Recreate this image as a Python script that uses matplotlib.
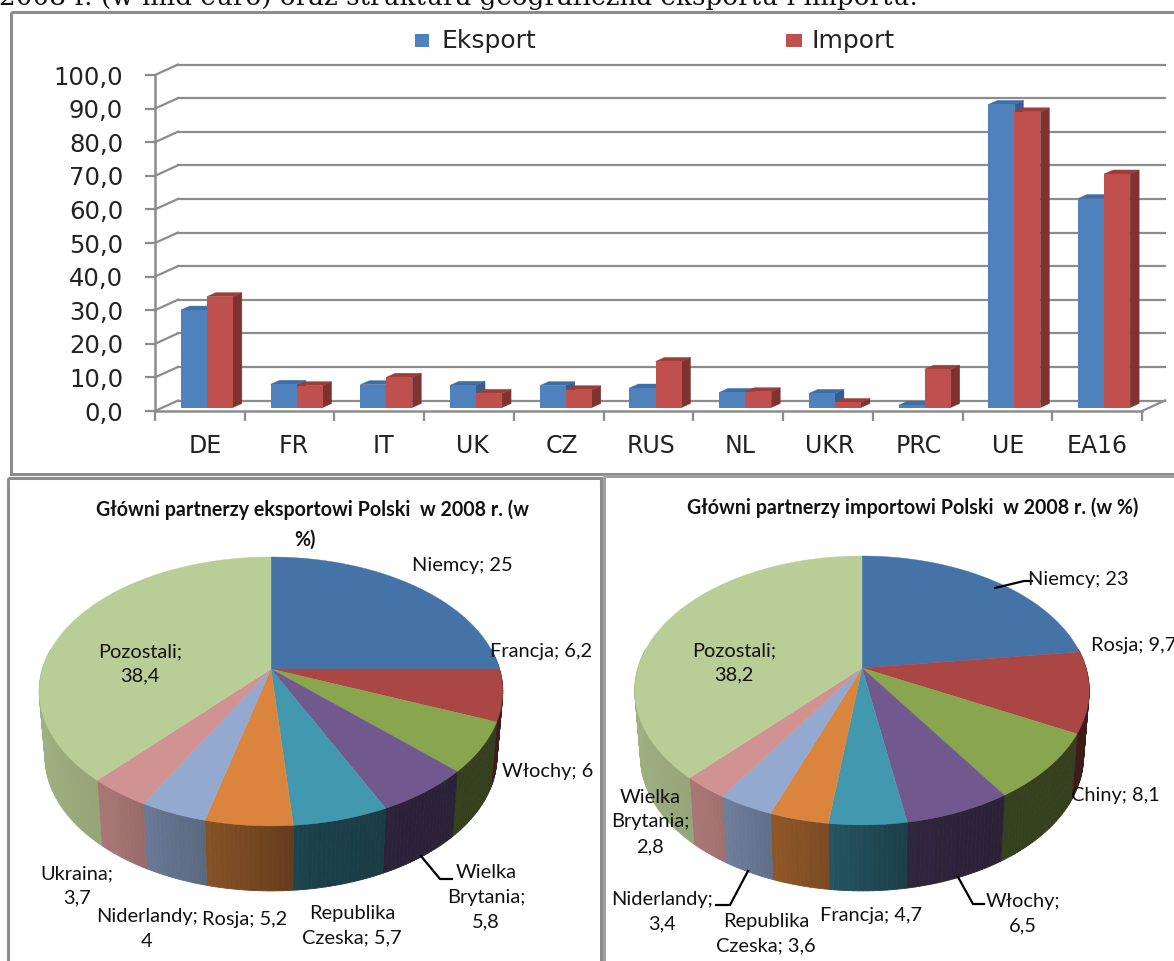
import numpy as np
import matplotlib
matplotlib.use("Agg")
import matplotlib.pyplot as plt
from matplotlib.collections import PolyCollection
from matplotlib.transforms import Affine2D
from matplotlib.patches import Polygon, Rectangle

W, H = 1174, 961
categories = ["DE", "FR", "IT", "UK", "CZ", "RUS", "NL", "UKR", "PRC", "UE", "EA16"]
eksport = [29.0, 6.9, 6.8, 6.6, 6.5, 5.8, 4.5, 4.2, 0.7, 90.2, 62.2]
importv = [33.0, 6.5, 9.0, 4.2, 5.3, 13.7, 4.7, 1.5, 11.4, 88.0, 69.5]
yticks = [0, 10, 20, 30, 40, 50, 60, 70, 80, 90, 100]

exp_values = [25, 6.2, 6, 5.8, 5.7, 5.2, 4, 3.7, 38.4]
imp_values = [23, 9.7, 8.1, 6.5, 4.7, 3.6, 3.4, 2.8, 38.2]
pie_colors = ["#4573A7", "#AA4643", "#89A54E", "#71588F", "#4198AF",
              "#DB843D", "#93A9CF", "#D19392", "#B9CD96"]

NARROW = ["Lato", "DejaVu Sans"]
GRAY = "#8C8C8C"

fig = plt.figure(figsize=(W / 100, H / 100), dpi=100, facecolor="white")
bg = fig.add_axes([0, 0, 1, 1])
bg.set_xlim(0, W)
bg.set_ylim(H, 0)
bg.axis("off")

# Caption and frames
bg.text(-1, -2, "2008 r. (w mld euro) oraz struktura geograficzna eksportu i importu.",
        family="DejaVu Serif", fontsize=18.9, ha="left", va="center", color="#111111")
for x0, y0, x1, y1, c in [(11, 12, 1180, 474, GRAY), (8, 478, 601, 970, GRAY), (604, 476, 1180, 970, "#A0A0A0")]:
    bg.add_patch(Rectangle((x0, y0), x1 - x0, y1 - y0, fill=False, ec=c, lw=2.2))

# ---------- Bar chart ----------
L, R, B, T = 155, 1142, 411, 75
ax = fig.add_axes([L / W, 1 - B / H, (R - L) / W, (B - T) / H])
ax.patch.set_alpha(0)
ax.set_xlim(0, 11)
ax.set_ylim(0, 100)


def off(dx, dy):
    return ax.transData + Affine2D().translate(dx, dy)


back = off(23, 10.5)
for v in yticks:
    ax.plot([0, 11], [v, v], color=GRAY, lw=1.6, transform=back, clip_on=False, zorder=1)
    x0, y0 = ax.transData.transform((0, v))
    ax.add_line(plt.Line2D([x0, x0 + 23], [y0, y0 + 10.5], color=GRAY, lw=1.6,
                           transform=None, clip_on=False, zorder=1))
x0, y0 = ax.transData.transform((11, 0))
ax.add_line(plt.Line2D([x0, x0 + 23], [y0, y0 + 10.5], color=GRAY, lw=1.6,
                       transform=None, clip_on=False, zorder=1))

for s in ["top", "right"]:
    ax.spines[s].set_visible(False)
for s in ["left", "bottom"]:
    ax.spines[s].set_color(GRAY)
    ax.spines[s].set_linewidth(1.8)
ax.set_yticks(yticks)
ax.set_yticklabels([f"{v:.1f}".replace(".", ",") for v in yticks],
                   fontsize=17.5, color="#222222", family="DejaVu Sans")
ax.set_xticks(range(12))
ax.set_xticklabels([])
ax.tick_params(axis="both", color=GRAY, width=1.6, length=7)
ax.tick_params(axis="y", pad=16)
for i, c in enumerate(categories):
    ax.text(i + 0.5, 0, c, transform=off(5 - 0.5 * i, -35), ha="center", va="center",
            fontsize=17, color="#222222", family="DejaVu Sans")

bw = 26 / 89.7
bar_t = off(7, 3.5)
dx_u = 9 / (R - L) * 11
dy_u = 4 / (B - T) * 100
series = [(eksport, -bw, "#4F81BD", "#385D8A", "#3F6EA6"),
          (importv, 0.0, "#C0504D", "#7F3330", "#9E3C39")]
for vals, shift, col, side, top in series:
    for i, v in enumerate(vals):
        x = i + 0.5 + shift
        ax.bar(x, v, width=bw, align="edge", color=col, transform=bar_t, zorder=3, clip_on=False)
        ax.add_patch(Polygon([(x + bw, 0), (x + bw + dx_u, dy_u), (x + bw + dx_u, v + dy_u), (x + bw, v)],
                             fc=side, ec=side, lw=0.3, transform=bar_t, zorder=2.9, clip_on=False))
        ax.add_patch(Polygon([(x, v), (x + dx_u, v + dy_u), (x + bw + dx_u, v + dy_u), (x + bw, v)],
                             fc=top, ec=top, lw=0.3, transform=bar_t, zorder=2.9, clip_on=False))
ax.set_xlim(0, 11)
ax.set_ylim(0, 100)

# Legend
bg.add_patch(Rectangle((415, 34), 14, 13, fc="#4F81BD", ec="none"))
bg.add_patch(Rectangle((786, 34), 16, 13, fc="#C0504D", ec="none"))
bg.text(441, 41, "Eksport", fontsize=18, va="center", ha="left", color="#222222")
bg.text(811, 41, "Import", fontsize=18, va="center", ha="left", color="#222222")

# ---------- Pies ----------
SH_U = [-1, -0.6, -0.4, -0.2, 0, 0.15, 0.5, 1]
SH_M = [0.86, 0.79, 0.68, 0.6, 0.5, 0.42, 0.39, 0.38]


def draw_pie(values, cx, cy, Bx, A, k, depth):
    def proj(theta):
        u, v = np.sin(theta), np.cos(theta)
        w = 1 + k * v
        return cx + Bx * u / w, cy - A * v / w

    edges = np.deg2rad(np.cumsum([0] + list(values)) * 3.6)
    sides, side_cols, tops, top_cols = [], [], [], []
    for a0, a1, col in zip(edges[:-1], edges[1:], pie_colors):
        rgb = np.array(matplotlib.colors.to_rgb(col))
        th = np.linspace(a0, a1, max(int(np.degrees(a1 - a0)), 2) + 1)
        xs, ys = proj(th)
        tops.append(np.column_stack([np.r_[cx, xs], np.r_[cy, ys]]))
        top_cols.append(col)
        for t0, t1 in zip(th[:-1], th[1:]):
            if np.cos((t0 + t1) / 2) > 0.15:
                continue
            (x0, x1), (y0, y1) = proj(np.array([t0, t1]))
            f = 0.975
            xb0, xb1 = cx + (x0 - cx) * f, cx + (x1 - cx) * f
            u = np.sin((t0 + t1) / 2)
            sides.append([(x0, y0), (x1, y1), (xb1, y1 + depth), (xb0, y0 + depth)])
            side_cols.append(rgb * np.interp(u, SH_U, SH_M))
    bg.add_collection(PolyCollection(sides, facecolors=side_cols, edgecolors=side_cols,
                                     linewidths=0.6, zorder=2))
    bg.add_collection(PolyCollection(tops, facecolors=top_cols, edgecolors=top_cols,
                                     linewidths=0.3, zorder=3))


draw_pie(exp_values, 271, 669, 228.5, 130.7, 0.167, 65)
draw_pie(imp_values, 862, 668, 224, 130.7, 0.167, 66)


def label(x, y, s, **kw):
    bg.text(x, y, s, family=NARROW, fontsize=kw.pop("fontsize", 14.4), ha="center", va="center",
            linespacing=1.55, color="#111111", zorder=6, clip_on=True, **kw)


def leader(xs, ys):
    bg.plot(xs, ys, color="black", lw=1.6, zorder=5)


label(312, 510, "Główni partnerzy eksportowi Polski  w 2008 r. (w", fontsize=14.1, fontweight="bold")
label(305, 540, "%)", fontsize=14.1, fontweight="bold")
label(913, 508, "Główni partnerzy importowi Polski  w 2008 r. (w %)", fontsize=14.1, fontweight="bold")

exp_labels = [(462, 565, "Niemcy; 25"), (541, 651, "Francja; 6,2"), (548, 771, "Włochy; 6"),
              (486, 897, "Wielka\nBrytania;\n5,8"), (352, 926, "Republika\nCzeska; 5,7"),
              (245, 919, "Rosja; 5,2"), (147, 929, "Niderlandy;\n4"), (77, 886, "Ukraina;\n3,7"),
              (140, 664, "Pozostali;\n38,4")]
imp_labels = [(1078, 579, "Niemcy; 23"), (1134, 646, "Rosja; 9,7"), (1115, 796, "Chiny; 8,1"),
              (1023, 914, "Włochy;\n6,5"), (871, 915, "Francja; 4,7"), (766, 934, "Republika\nCzeska; 3,6"),
              (662, 912, "Niderlandy;\n3,4"), (650, 822, "Wielka\nBrytania;\n2,8"),
              (734, 663, "Pozostali;\n38,2")]
for x, y, s in exp_labels + imp_labels:
    label(x, y, s)

leader([421, 440, 452], [856, 879, 879])
leader([995, 1024, 1032], [588, 581, 581])
leader([958, 973, 984], [877, 904, 904])
leader([748, 730, 716], [871, 905, 905])

fig.savefig("out.png", dpi=100)
